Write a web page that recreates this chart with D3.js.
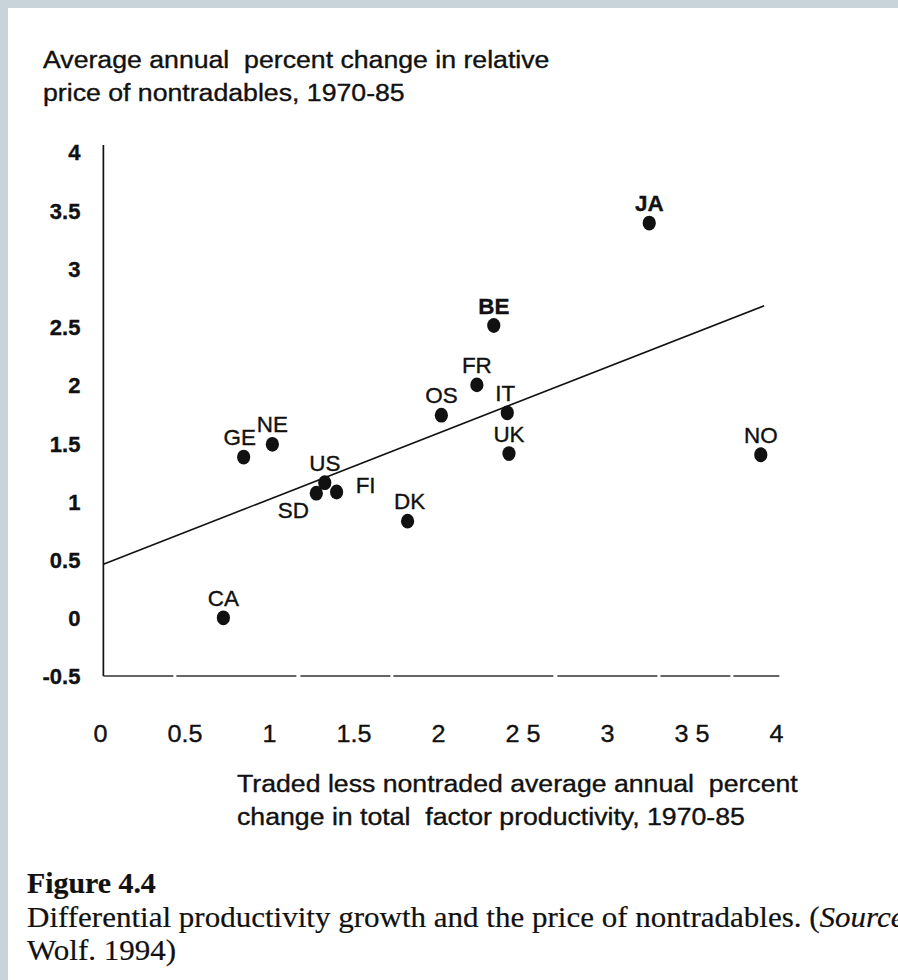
<!DOCTYPE html>
<html>
<head>
<meta charset="utf-8">
<script src="https://cdn.jsdelivr.net/npm/d3@7"></script>
<style>
  html, body { margin: 0; padding: 0; background: #c9d3da; }
  svg { display: block; }
  text { white-space: pre; }
  .sans { font-family: "Liberation Sans", Arial, sans-serif; fill: #111; stroke: #111; stroke-width: 0.35px; }
  .serif { font-family: "Liberation Serif", "Times New Roman", serif; fill: #111; stroke: #111; stroke-width: 0.2px; }
</style>
</head>
<body>
<svg id="chart" width="898" height="980"></svg>
<script>
// values
const countries = ["JA", "BE", "FR", "OS", "IT", "UK", "NO", "GE", "NE", "US", "SD", "FI", "DK", "CA"];
const tfpGap = [3.25, 2.33, 2.23, 2.02, 2.41, 2.42, 3.91, 0.85, 1.02, 1.33, 1.28, 1.40, 1.82, 0.73];
const priceChange = [3.39, 2.51, 2.00, 1.74, 1.76, 1.41, 1.40, 1.38, 1.49, 1.16, 1.07, 1.08, 0.83, 0.00];
const boldLabels = ["JA", "BE"];

// fitted line, two ends
const trendX = [0.02, 3.93];
const trendY = [0.46, 2.68];

const xTicks = [0, 0.5, 1, 1.5, 2, 2.5, 3, 3.5, 4];
const xTickLabels = ["0", "0.5", "1", "1.5", "2", "2 5", "3", "3 5", "4"];
const yTicks = [4, 3.5, 3, 2.5, 2, 1.5, 1, 0.5, 0, -0.5];
const yTickLabels = ["4", "3.5", "3", "2.5", "2", "1.5", "1", "0.5", "0", "-0.5"];

const yTitle = ["Average annual  percent change in relative", "price of nontradables, 1970-85"];
const xTitle = ["Traded less nontraded average annual  percent", "change in total  factor productivity, 1970-85"];

// label nudges (px) relative to the dot: [dx, baseline dy]
const labelNudge = { GE: [-4, -12], SD: [-23, 25], FI: [29, 1], DK: [2, -12], IT: [-2, -12] };

const STRETCH = 1.16; // the scan is wider than the type

const svg = d3.select('#chart');
svg.append('rect')
  .attr('x', 8).attr('y', 8)
  .attr('width', 890).attr('height', 972)
  .attr('fill', '#fff');

const x = d3.scaleLinear().domain([0, 4]).range([100, 776]);
const y = d3.scaleLinear().domain([-0.5, 4]).range([676, 152]);

function stretched(sel, px, py, s) {
  return sel.attr('transform', `translate(${px},${py}) scale(${s},1)`);
}

// y title
yTitle.forEach(function(line, i) {
  stretched(svg.append('text').attr('class', 'sans').attr('font-size', 23).text(line), 43, 68 + i * 33, STRETCH);
});

// axes (labels only, lines drawn below)
const yAxis = svg.append('g')
  .attr('transform', `translate(${x(0.02)},0)`)
  .call(d3.axisLeft(y).tickValues(yTicks).tickSize(0).tickFormat(function(d, i) { return yTickLabels[i]; }));
yAxis.select('.domain').remove();
yAxis.selectAll('text')
  .attr('class', 'sans')
  .attr('font-size', 22)
  .attr('font-weight', 'bold')
  .attr('x', 0).attr('dy', '0.36em')
  .attr('transform', 'translate(-23,0) scale(1.0,1)');

const xAxis = svg.append('g')
  .attr('transform', `translate(0,${y(-0.5)})`)
  .call(d3.axisBottom(x).tickValues(xTicks).tickSize(0).tickFormat(function(d, i) { return xTickLabels[i]; }));
xAxis.select('.domain').remove();
xAxis.selectAll('text')
  .attr('class', 'sans')
  .attr('font-size', 24)
  .attr('y', 0).attr('dy', 0)
  .attr('transform', 'translate(0,66) scale(1.05,1)');

// axis lines
svg.append('line')
  .attr('x1', x(0.02)).attr('x2', x(0.02))
  .attr('y1', y(4.06)).attr('y2', y(-0.5))
  .attr('stroke', '#111').attr('stroke-width', 1.7);
svg.append('line')
  .attr('x1', x(0.02)).attr('x2', x(4.02))
  .attr('y1', y(-0.5)).attr('y2', y(-0.5))
  .attr('stroke', '#333').attr('stroke-width', 1.3)
  .attr('stroke-dasharray', '70 3 120 4 90 3 160 4 100 3');

// trend line
svg.append('line')
  .attr('x1', x(trendX[0])).attr('y1', y(trendY[0]))
  .attr('x2', x(trendX[1])).attr('y2', y(trendY[1]))
  .attr('stroke', '#111').attr('stroke-width', 1.6);

// points
const pts = countries.map(function(c, i) { return { name: c, gx: tfpGap[i], py: priceChange[i] }; });

svg.append('g').selectAll('ellipse')
  .data(pts)
  .join('ellipse')
  .attr('cx', function(d) { return x(d.gx); })
  .attr('cy', function(d) { return y(d.py); })
  .attr('rx', 6.6).attr('ry', 7.4)
  .attr('fill', '#111');

svg.append('g').selectAll('text')
  .data(pts)
  .join('text')
  .attr('class', 'sans')
  .attr('font-size', 22)
  .attr('font-weight', function(d) { return boldLabels.includes(d.name) ? 'bold' : 'normal'; })
  .attr('text-anchor', 'middle')
  .attr('transform', function(d) {
    const n = labelNudge[d.name] || [0, -12];
    return `translate(${x(d.gx) + n[0]},${y(d.py) + n[1]}) scale(1.02,1)`;
  })
  .text(function(d) { return d.name; });

// x title
xTitle.forEach(function(line, i) {
  stretched(svg.append('text').attr('class', 'sans').attr('font-size', 23).text(line), 237, 792 + i * 33, STRETCH);
});

// caption
stretched(svg.append('text').attr('class', 'serif').attr('font-size', 29).attr('font-weight', 'bold').text('Figure 4.4'), 27, 893, 1.03);
const cap = stretched(svg.append('text').attr('class', 'serif').attr('font-size', 29), 27, 927, 1.07);
cap.append('tspan').text('Differential productivity growth and the price of nontradables. (');
cap.append('tspan').attr('font-style', 'italic').text('Source');
stretched(svg.append('text').attr('class', 'serif').attr('font-size', 29).text('Wolf. 1994)'), 27, 960, 1.07);
</script>
</body>
</html>
